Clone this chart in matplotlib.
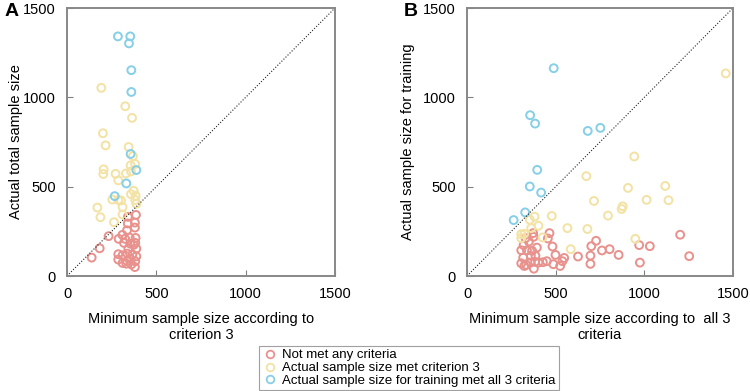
import matplotlib
matplotlib.use("Agg")
import matplotlib.pyplot as plt
from matplotlib.lines import Line2D

plt.rcParams['font.family'] = ['Liberation Sans', 'DejaVu Sans']

# ---- panel A: minimum sample size (criterion 3) vs actual total sample size
a_red_x = [386, 341, 380, 340, 380, 336, 233, 310, 289, 325, 351, 384, 382, 319, 354, 373,
           388, 183, 343, 138, 287, 311, 338, 366, 388, 287, 311, 336, 354, 382, 360, 380, 332]
a_red_y = [342, 331, 299, 294, 271, 256, 223, 230, 208, 208, 215, 213, 185, 185, 181, 174,
           153, 155, 153, 103, 122, 116, 125, 120, 110, 92, 73, 84, 97, 82, 65, 50, 69]
a_yel_x = [192, 326, 364, 201, 216, 345, 369, 356, 381, 358, 330, 205, 203, 272, 287, 373,
           358, 384, 388, 254, 287, 302, 311, 170, 187, 263, 311, 382]
a_yel_y = [1053, 950, 885, 799, 731, 722, 671, 619, 627, 585, 574, 597, 571, 572, 535, 477,
           458, 449, 404, 428, 425, 423, 385, 383, 329, 301, 344, 425]
a_blu_x = [285, 354, 347, 360, 360, 356, 388, 332, 267]
a_blu_y = [1341, 1341, 1302, 1152, 1030, 683, 593, 518, 447]

# ---- panel B: minimum sample size (all 3 criteria) vs actual training sample size
b_red_x = [1202, 1253, 971, 1031, 975, 855, 804, 761, 728, 701, 696, 696, 626, 548, 538, 525,
           499, 487, 482, 465, 456, 450, 428, 394, 373, 375, 330, 349, 319, 306, 338, 367,
           386, 360, 317, 306, 334, 358, 384, 377, 403, 323]
b_red_y = [231, 111, 173, 167, 75, 118, 150, 143, 197, 167, 114, 68, 109, 101, 83, 56,
           118, 66, 165, 240, 210, 83, 77, 159, 240, 219, 212, 193, 173, 144, 144, 141,
           113, 113, 103, 71, 62, 75, 79, 41, 75, 56]
b_yel_x = [1459, 943, 673, 908, 1118, 716, 1013, 1136, 878, 872, 795, 478, 381, 354, 403,
           362, 566, 679, 306, 323, 306, 426, 949, 585]
b_yel_y = [1134, 669, 559, 493, 504, 420, 426, 424, 390, 375, 338, 336, 332, 315, 281,
           268, 268, 263, 234, 236, 212, 216, 208, 150]
b_blu_x = [489, 356, 384, 681, 752, 396, 354, 418, 328, 263]
b_blu_y = [1163, 900, 853, 812, 829, 594, 501, 467, 356, 313]

ticks = [0, 500, 1000, 1500]
red = '#E8918D'
yellow = '#F2E2A4'
blue = '#86CFE6'
legend_labels = ['Not met any criteria',
                 'Actual sample size met criterion 3',
                 'Actual sample size for training met all 3 criteria']

fig = plt.figure(figsize=(7.5, 3.91), dpi=100)
W, H = 750, 391
axA = fig.add_axes([67 / W, 1 - 276 / H, 268 / W, 268 / H])
axB = fig.add_axes([467 / W, 1 - 276 / H, 266 / W, 268 / H])


def draw(ax, rx, ry, yx, yy, bx, by, xlabel, ylabel, ypad):
    kw = dict(s=32, facecolors='none', linewidths=1.4)
    ax.scatter(rx, ry, edgecolors=red, **kw)
    ax.scatter(yx, yy, edgecolors=yellow, **kw)
    ax.scatter(bx, by, edgecolors=blue, **kw)
    ax.plot([0, 1500], [0, 1500], color='#222222', linestyle=(0, (1, 1.6)), linewidth=0.8)
    ax.set_xlim(0, 1500)
    ax.set_ylim(0, 1500)
    ax.set_xticks(ticks)
    ax.set_yticks(ticks)
    ax.tick_params(direction='in', length=4, color='#808080', labelsize=10.5, pad=8)
    for s in ax.spines.values():
        s.set_color('#888888')
        s.set_linewidth(1.4)
    ax.set_xlabel(xlabel, fontsize=10.5, labelpad=8)
    ax.set_ylabel(ylabel, fontsize=10.5, labelpad=ypad)


draw(axA, a_red_x, a_red_y, a_yel_x, a_yel_y, a_blu_x, a_blu_y,
     'Minimum sample size according to\ncriterion 3', 'Actual total sample size', 0)
draw(axB, b_red_x, b_red_y, b_yel_x, b_yel_y, b_blu_x, b_blu_y,
     'Minimum sample size according to  all 3\ncriteria', 'Actual sample size for training', 6)

fig.text(5 / W, 1 - 12 / H, 'A', fontsize=14, fontweight='bold', va='center')
fig.text(404 / W, 1 - 12 / H, 'B', fontsize=14, fontweight='bold', va='center')

handles = [Line2D([], [], marker='o', linestyle='none', markerfacecolor='none',
                  markeredgecolor=c, markersize=5.5, markeredgewidth=1.3)
           for c in (red, yellow, blue)]
leg = fig.legend(handles, legend_labels, loc='center', bbox_to_anchor=(409 / W, 1 - 368 / H),
                 fontsize=9.5, frameon=True, fancybox=False, borderpad=0.25,
                 labelspacing=0.05, handletextpad=0.3, handlelength=1.2)
leg.get_frame().set_edgecolor('#888888')
leg.get_frame().set_linewidth(0.8)

fig.savefig('out.png', dpi=100)
